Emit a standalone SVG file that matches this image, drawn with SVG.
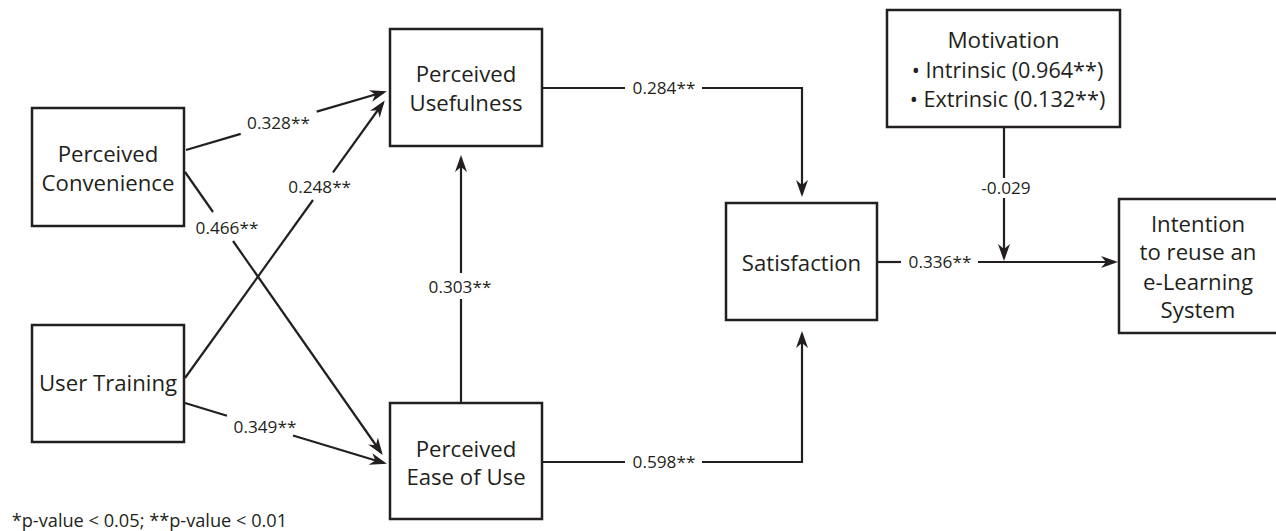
<svg xmlns="http://www.w3.org/2000/svg" width="1276" height="531" viewBox="0 0 1276 531">
<style>
.box{fill:#fff;stroke:#231f20;stroke-width:2.5}
.nt{font-family:"Open Sans","Noto Sans","DejaVu Sans",sans-serif;font-size:22.2px;fill:#231f20;text-anchor:middle}
.lb{font-family:"Open Sans","Noto Sans","DejaVu Sans",sans-serif;font-size:17.2px;fill:#231f20;text-anchor:middle}
.ln{fill:none;stroke:#231f20;stroke-width:2.2}
.ar{marker-end:url(#ah)}
</style>
<defs>
<marker id="ah" markerUnits="userSpaceOnUse" markerWidth="18" markerHeight="13" refX="14" refY="6" orient="auto">
<path d="M0,0 L17,6 L0,12 L5,6 Z" fill="#231f20"/>
</marker>
</defs>
<rect width="1276" height="531" fill="#fff"/>
<g id="connectors">
<path class="ln" d="M186,150 L240.7,133.9"/>
<path class="ln ar" d="M316.7,111.6 L384,92"/>
<path class="ln" d="M185,378 L313,200"/>
<path class="ln ar" d="M333,172.3 L383,103"/>
<path class="ln" d="M185,172 L213,212"/>
<path class="ln ar" d="M233,241 L381,452.5"/>
<path class="ln" d="M185,403 L227,415.7"/>
<path class="ln ar" d="M293,435.5 L384,463"/>
<path class="ln" d="M461,403 L461,299"/>
<path class="ln ar" d="M461,273 L461,158"/>
<path class="ln" d="M542,88 L625,88"/>
<path class="ln ar" d="M702,88 L802,88 L802,194"/>
<path class="ln" d="M542,462 L625,462"/>
<path class="ln ar" d="M702,462 L802,462 L802,334"/>
<path class="ln" d="M877,262 L901,262"/>
<path class="ln ar" d="M978,262 L1115,262"/>
<path class="ln" d="M1004,127 L1004,178"/>
<path class="ln ar" d="M1004,198 L1004,258"/>
<text class="lb" x="278.5" y="129.3">0.328**</text>
<text class="lb" x="319.7" y="192.7">0.248**</text>
<text class="lb" x="227" y="234.3">0.466**</text>
<text class="lb" x="265" y="433.3">0.349**</text>
<text class="lb" x="460" y="292.5">0.303**</text>
<text class="lb" x="664" y="94.3">0.284**</text>
<text class="lb" x="664" y="467.5">0.598**</text>
<text class="lb" x="940" y="268">0.336**</text>
<text class="lb" x="1006" y="193.5">-0.029</text>
</g>
<g id="perceived-convenience">
<rect class="box" x="32" y="108" width="152" height="118"/>
<text class="nt" x="108" y="162.3">Perceived</text>
<text class="nt" x="108" y="190.7">Convenience</text>
</g>
<g id="user-training">
<rect class="box" x="32" y="325" width="152" height="117"/>
<text class="nt" x="108" y="391">User Training</text>
</g>
<g id="perceived-usefulness">
<rect class="box" x="390" y="29" width="152" height="117"/>
<text class="nt" x="466" y="81.7">Perceived</text>
<text class="nt" x="466" y="111">Usefulness</text>
</g>
<g id="perceived-ease-of-use">
<rect class="box" x="390" y="403" width="152" height="116"/>
<text class="nt" x="466" y="456.7">Perceived</text>
<text class="nt" x="466" y="485">Ease of Use</text>
</g>
<g id="satisfaction">
<rect class="box" x="726" y="203" width="151" height="117"/>
<text class="nt" x="801.5" y="270.7">Satisfaction</text>
</g>
<g id="motivation">
<rect class="box" x="887" y="10" width="233" height="117"/>
<text class="nt" x="1003.5" y="48.3" style="font-size:22.5px">Motivation</text>
<text class="nt" x="1007.5" y="77.6" style="font-size:21.6px">• Intrinsic (0.964**)</text>
<text class="nt" x="1007.5" y="106.8" style="font-size:21.6px">• Extrinsic (0.132**)</text>
</g>
<g id="intention">
<rect class="box" x="1119" y="199" width="160" height="134"/>
<text class="nt" x="1198" y="231.7">Intention</text>
<text class="nt" x="1198" y="260">to reuse an</text>
<text class="nt" x="1198" y="290">e-Learning</text>
<text class="nt" x="1198" y="318">System</text>
</g>
<g id="footnote">
<text class="lb" x="11.7" y="526.7" style="text-anchor:start;font-size:18.2px">*p-value &lt; 0.05; **p-value &lt; 0.01</text>
</g>
</svg>
